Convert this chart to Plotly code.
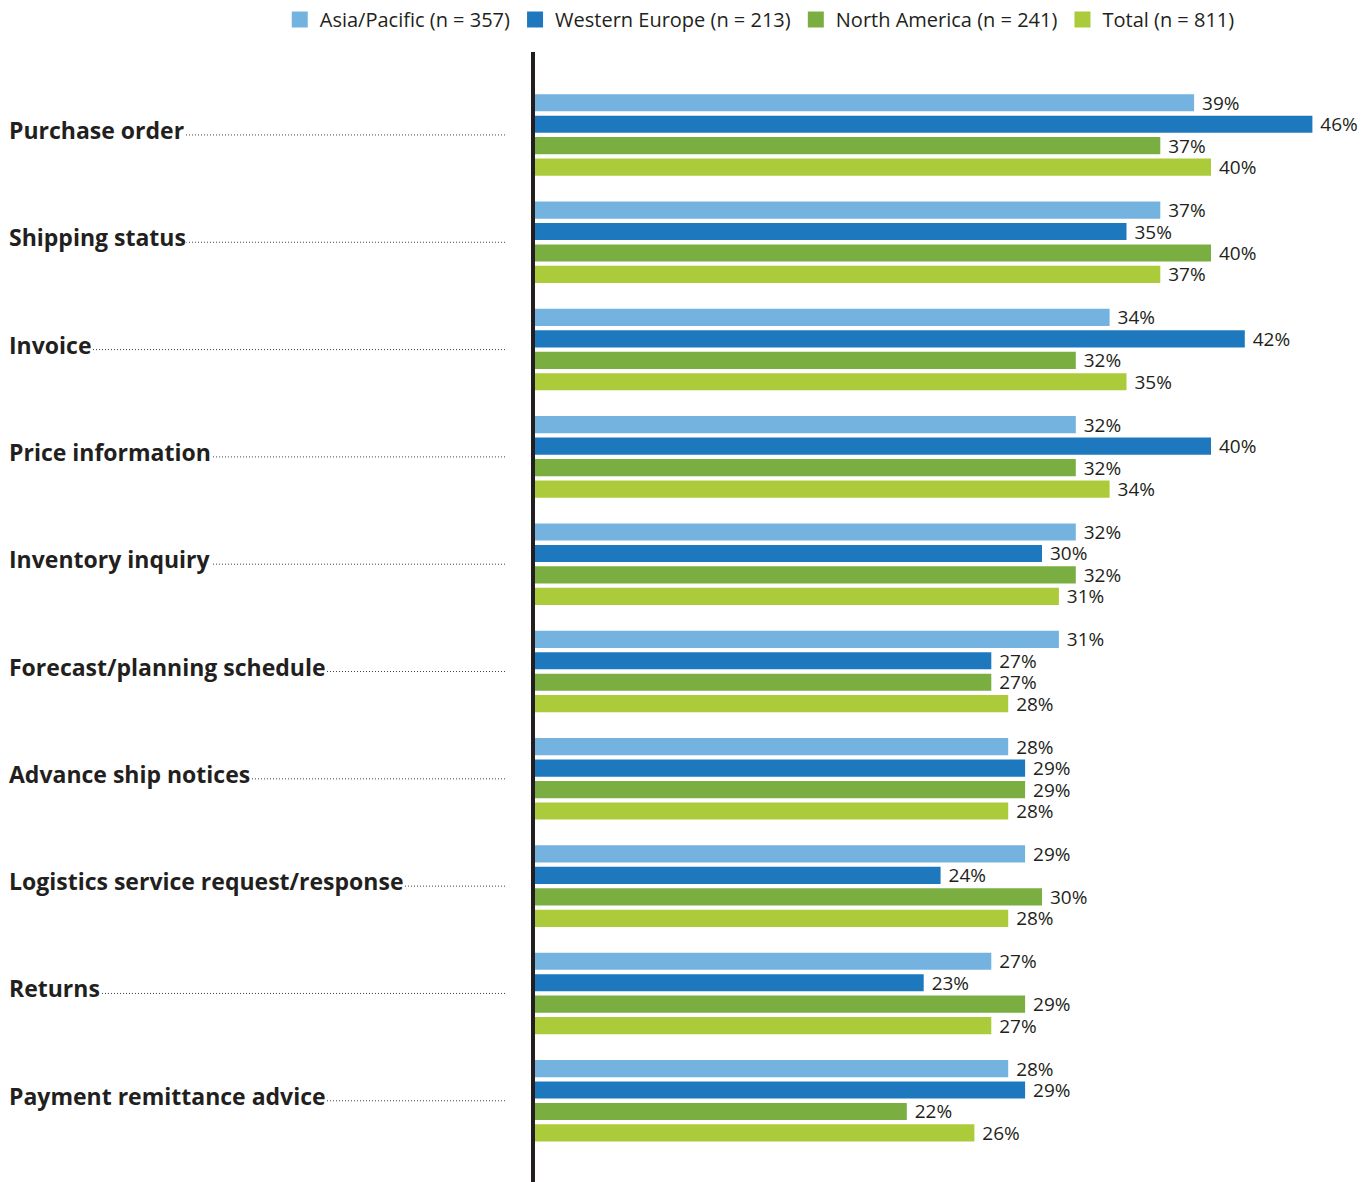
import plotly.graph_objects as go

# Transaction types shown on the category axis (top to bottom)
categories = [
    "Purchase order",
    "Shipping status",
    "Invoice",
    "Price information",
    "Inventory inquiry",
    "Forecast/planning schedule",
    "Advance ship notices",
    "Logistics service request/response",
    "Returns",
    "Payment remittance advice",
]

# Share of respondents (%) per region
asia_pacific = [39, 37, 34, 32, 32, 31, 28, 29, 27, 28]
western_europe = [46, 35, 42, 40, 30, 27, 29, 24, 23, 29]
north_america = [37, 40, 32, 32, 32, 27, 29, 30, 29, 22]
total = [40, 37, 35, 34, 31, 28, 28, 28, 27, 26]

series_names = [
    "Asia/Pacific (n = 357)",
    "Western Europe (n = 213)",
    "North America (n = 241)",
    "Total (n = 811)",
]
series_values = [asia_pacific, western_europe, north_america, total]
series_colors = ["#74B3E0", "#1E78BE", "#7AAE41", "#ACCB3A"]

W, H = 1364, 1182
TEXT = "#231f20"
FONT = "'Open Sans', sans-serif"
X0 = 535  # left edge of the bars, in pixels

fig = go.Figure()
for name, vals, color in zip(series_names, series_values, series_colors):
    fig.add_trace(go.Bar(
        y=categories,
        x=vals,
        name=name,
        orientation="h",
        marker=dict(color=color, line=dict(width=0)),
        text=[f"\u00a0{v}%" for v in vals],
        textposition="outside",
        constraintext="none",
        cliponaxis=False,
        textfont=dict(size=19, color=TEXT, family=FONT),
        hoverinfo="skip",
        showlegend=False,
    ))
    # square swatch for the legend entry
    fig.add_trace(go.Scatter(
        x=[None], y=[None], mode="markers", name=name,
        marker=dict(symbol="square", size=17, color=color),
        hoverinfo="skip",
    ))

annotations = []
shapes = []
for cat in categories:
    # dotted leader from the label to the axis; the label's white box hides it underneath
    shapes.append(dict(
        type="line", xref="paper", yref="y",
        x0=9 / W, x1=507 / W, y0=cat, y1=cat,
        line=dict(color="#444444", width=1, dash="1px,2px"),
        layer="above",
    ))
    annotations.append(dict(
        text=f"<b>{cat}</b>", xref="paper", yref="y",
        x=8 / W, y=cat, xanchor="left", yanchor="middle",
        yshift=5, showarrow=False, bgcolor="white", borderpad=0,
        font=dict(size=23, color=TEXT, family=FONT),
    ))

fig.update_layout(
    width=W, height=H,
    margin=dict(l=0, r=0, t=52, b=0),
    paper_bgcolor="white", plot_bgcolor="white",
    barmode="group", bargap=0.2, bargroupgap=0.2,
    font=dict(family=FONT, color=TEXT),
    showlegend=True,
    legend=dict(
        orientation="h", xref="paper", yref="container",
        x=0.557, xanchor="center", y=1, yanchor="top",
        font=dict(size=20, color=TEXT, family=FONT),
        itemwidth=30, traceorder="normal",
    ),
    xaxis=dict(
        domain=[X0 / W, (X0 + 48 * 16.9) / W],
        range=[0, 48], showgrid=False, zeroline=False,
        showticklabels=False, ticks="", showline=False,
    ),
    yaxis=dict(
        type="category", categoryorder="array", categoryarray=categories,
        range=[9.757, -0.773], showgrid=False, zeroline=False,
        showticklabels=False, ticks="",
        showline=True, linewidth=4, linecolor=TEXT,
    ),
    annotations=annotations,
    shapes=shapes,
)

fig.write_html("out.html")
